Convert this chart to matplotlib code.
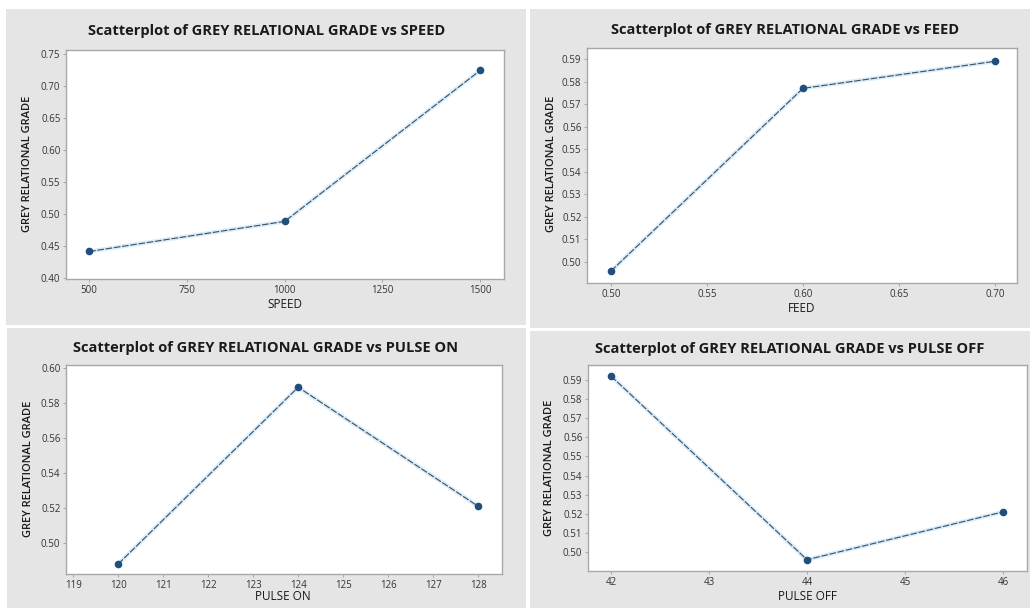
import matplotlib
matplotlib.use("Agg")
import matplotlib.pyplot as plt
from matplotlib.patches import Rectangle

# data
speed = [500, 1000, 1500]
grg_speed = [0.441, 0.488, 0.724]

feed = [0.50, 0.60, 0.70]
grg_feed = [0.496, 0.577, 0.589]

pulse_on = [120, 124, 128]
grg_pulse_on = [0.488, 0.589, 0.521]

pulse_off = [42, 44, 46]
grg_pulse_off = [0.592, 0.496, 0.521]

W, H = 1030, 608
fig = plt.figure(figsize=(W / 100, H / 100), dpi=100)
fig.patch.set_facecolor("white")

FONT = ["Open Sans", "DejaVu Sans"]
GREY_BG = "#e5e5e5"
LINE_C = "#3a4f66"
MARK_C = "#1f4f7a"


def box(l, t, r, b):
    # pixel box -> figure fraction [left, bottom, width, height]
    return [l / W, 1 - b / H, (r - l) / W, (b - t) / H]


# grey panel backgrounds (behind the axes)
for l, t, r, b in [(6, 9, 526, 325), (530, 9, 1030, 328),
                   (7, 328, 526, 608), (530, 331, 1030, 608)]:
    x0, y0, w, h = box(l, t, r, b)
    fig.patches.append(Rectangle((x0, y0), w, h, transform=fig.transFigure,
                                 facecolor=GREY_BG, edgecolor="none", zorder=-5))

panels = [
    dict(x=speed, y=grg_speed, pos=(66, 50, 504, 279),
         xlim=(441, 1561), ylim=(0.398, 0.756),
         xt=[500, 750, 1000, 1250, 1500], xfmt="{:.0f}",
         yt=[0.40, 0.45, 0.50, 0.55, 0.60, 0.65, 0.70, 0.75], yfmt="{:.2f}",
         title="Scatterplot of GREY RELATIONAL GRADE vs SPEED", tpos=(267, 31),
         xlabel="SPEED", xlpos=(285, 305), ylpos=(28, 164)),
    dict(x=feed, y=grg_feed, pos=(587, 48, 1017, 283),
         xlim=(0.4875, 0.7115), ylim=(0.4907, 0.5949),
         xt=[0.50, 0.55, 0.60, 0.65, 0.70], xfmt="{:.2f}",
         yt=[0.50, 0.51, 0.52, 0.53, 0.54, 0.55, 0.56, 0.57, 0.58, 0.59], yfmt="{:.2f}",
         title="Scatterplot of GREY RELATIONAL GRADE vs FEED", tpos=(785, 30),
         xlabel="FEED", xlpos=(802, 309), ylpos=(551, 164)),
    dict(x=pulse_on, y=grg_pulse_on, pos=(66, 365, 502, 574),
         xlim=(118.84, 128.53), ylim=(0.4823, 0.6017),
         xt=list(range(119, 129)), xfmt="{:.0f}",
         yt=[0.50, 0.52, 0.54, 0.56, 0.58, 0.60], yfmt="{:.2f}",
         title="Scatterplot of GREY RELATIONAL GRADE vs PULSE ON", tpos=(266, 348),
         xlabel="PULSE ON", xlpos=(283, 597), ylpos=(29, 469)),
    dict(x=pulse_off, y=grg_pulse_off, pos=(588, 365, 1027, 571),
         xlim=(41.765, 46.245), ylim=(0.4901, 0.5978),
         xt=[42, 43, 44, 45, 46], xfmt="{:.0f}",
         yt=[0.50, 0.51, 0.52, 0.53, 0.54, 0.55, 0.56, 0.57, 0.58, 0.59], yfmt="{:.2f}",
         title="Scatterplot of GREY RELATIONAL GRADE vs PULSE OFF", tpos=(790, 349),
         xlabel="PULSE OFF", xlpos=(807, 596), ylpos=(550, 468)),
]

for p in panels:
    ax = fig.add_axes(box(*p["pos"]))
    ax.set_facecolor("white")
    # soft blue halo under the thin connecting line
    ax.plot(p["x"], p["y"], color="#bfe0f5", lw=3.0, alpha=0.6, zorder=2)
    ax.plot(p["x"], p["y"], color=LINE_C, lw=0.8, ls=(0, (6, 1.5)), zorder=3)
    ax.plot(p["x"], p["y"], "o", color=MARK_C, ms=4.5, zorder=4)
    ax.set_xlim(*p["xlim"])
    ax.set_ylim(*p["ylim"])
    ax.set_xticks(p["xt"])
    ax.set_xticklabels([p["xfmt"].format(v) for v in p["xt"]])
    ax.set_yticks(p["yt"])
    ax.set_yticklabels([p["yfmt"].format(v) for v in p["yt"]])
    for s in ax.spines.values():
        s.set_color("#a8a8a8")
        s.set_linewidth(1.0)
    ax.tick_params(axis="both", length=2.5, width=0.7, color="#a8a8a8",
                   labelsize=7, labelcolor="#333333", pad=1.5)
    for lab in ax.get_xticklabels() + ax.get_yticklabels():
        lab.set_family(FONT)

    tx, ty = p["tpos"]
    fig.text(tx / W, 1 - ty / H, p["title"], ha="center", va="center",
             fontsize=10.5, fontweight="bold", color="#1a1a1a", family=FONT)
    lx, ly = p["xlpos"]
    fig.text(lx / W, 1 - ly / H, p["xlabel"], ha="center", va="center",
             fontsize=8.5, color="#1a1a1a", family=FONT)
    yx, yy = p["ylpos"]
    fig.text(yx / W, 1 - yy / H, "GREY RELATIONAL GRADE", ha="center", va="center",
             rotation=90, fontsize=8, fontweight="semibold", color="#1a1a1a",
             family=FONT)

fig.savefig("out.png", dpi=100, facecolor="white")
